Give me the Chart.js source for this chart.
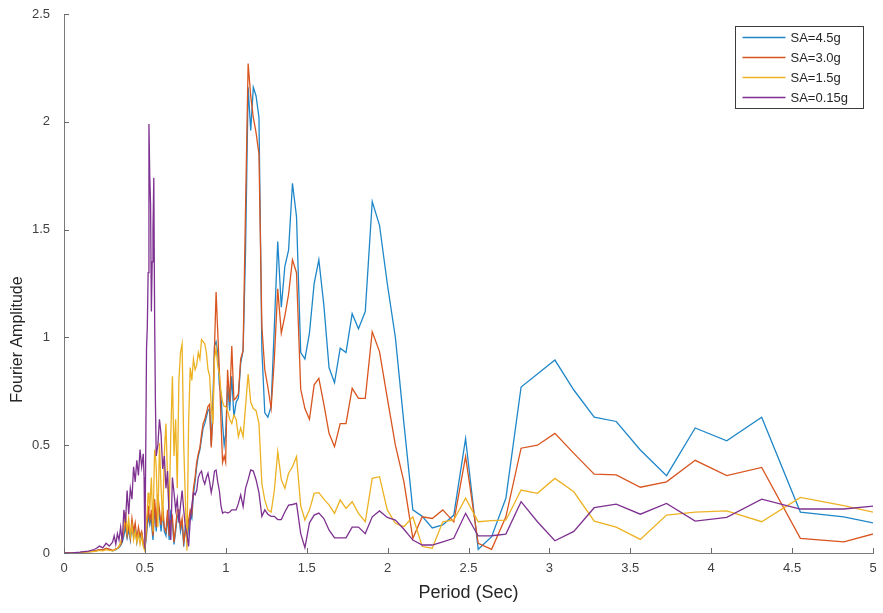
<!DOCTYPE html>
<html>
<head>
<meta charset="utf-8">
<title>Fourier Amplitude vs Period</title>
<script src="https://cdn.jsdelivr.net/npm/chart.js@4/dist/chart.umd.min.js"></script>
<style>
  html, body { margin: 0; padding: 0; background: #ffffff; }
  #wrap { width: 883px; height: 613px; }
</style>
</head>
<body>
<div id="wrap"><canvas id="chart" width="883" height="613"></canvas></div>
<script>
// Period grid (s): coarse near zero, dense through the 0.3-1.0 s band,
// then the FFT bins T = 81.92/k for k = 82 ... 16.
const periods = [
  0, 0.05, 0.1, 0.15, 0.18, 0.2, 0.22, 0.24, 0.26, 0.28,
  0.30, 0.31, 0.32, 0.33, 0.34, 0.35, 0.36, 0.37, 0.38, 0.39, 0.40, 0.41, 0.42, 0.43, 0.44, 0.45, 0.46, 0.47, 0.48,
  0.49, 0.495, 0.50, 0.505, 0.51, 0.515, 0.52, 0.525, 0.53, 0.535, 0.54, 0.545, 0.55, 0.555, 0.56, 0.565, 0.57,
  0.58, 0.59, 0.60, 0.61, 0.62, 0.63, 0.64, 0.65, 0.66, 0.67, 0.68, 0.69, 0.70, 0.71, 0.72, 0.73, 0.74, 0.75, 0.76, 0.77,
  0.78, 0.79, 0.80, 0.81, 0.82, 0.83, 0.84, 0.85, 0.86, 0.87, 0.88, 0.89, 0.90, 0.91, 0.92, 0.93, 0.94, 0.95, 0.96, 0.97,
  0.98, 0.99,
  0.999, 1.011, 1.024, 1.037, 1.05, 1.064, 1.078, 1.092, 1.107, 1.122,
  1.138, 1.154, 1.17, 1.187, 1.205, 1.223, 1.241, 1.26, 1.28, 1.3,
  1.321, 1.343, 1.365, 1.388, 1.412, 1.437, 1.463, 1.489, 1.517, 1.546,
  1.575, 1.606, 1.638, 1.672, 1.707, 1.743, 1.781, 1.82, 1.862, 1.905,
  1.95, 1.998, 2.048, 2.101, 2.156, 2.214, 2.276, 2.341, 2.409, 2.482,
  2.56, 2.643, 2.731, 2.825, 2.926, 3.034, 3.151, 3.277, 3.413, 3.562,
  3.724, 3.901, 4.096, 4.312, 4.551, 4.819, 5.12
];

// Fourier amplitude for each input level, one value per period above.
const sa45 = [
  0, 0.001, 0.003, 0.006, 0.008, 0.011, 0.015, 0.013, 0.02, 0.016,
  0.01, 0.012, 0.015, 0.02, 0.025, 0.035, 0.05, 0.08, 0.12, 0.07, 0.11, 0.06, 0.13, 0.08, 0.12, 0.05, 0.1, 0.07, 0.09,
  0.04, 0.03, 0.02, 0.05, 0.08, 0.13, 0.18, 0.15, 0.13, 0.15, 0.17, 0.1, 0.06, 0.13, 0.21, 0.17, 0.1,
  0.23, 0.17, 0.1, 0.19, 0.1, 0.08, 0.17, 0.06, 0.2, 0.14, 0.04, 0.1, 0.17, 0.18, 0.1, 0.14, 0.03, 0.13, 0.05, 0.12,
  0.18, 0.16, 0.27, 0.33, 0.4, 0.45, 0.48, 0.53, 0.58, 0.6, 0.63, 0.66, 0.67, 0.5, 0.7, 0.96, 0.98, 0.93, 0.78, 0.74,
  0.6, 0.5,
  0.55, 0.78, 0.66, 0.82, 0.63, 0.70, 0.72, 0.88, 0.94, 1.4,
  2.16, 1.96, 2.16, 2.12, 2.02, 0.94, 0.65, 0.63, 0.68, 1.05,
  1.445, 1.14, 1.33, 1.405, 1.715, 1.56, 0.93, 0.90, 1.02, 1.25,
  1.36, 1.15, 0.86, 0.79, 0.95, 0.93, 1.11, 1.04, 1.12, 1.63,
  1.52, 1.25, 1.0, 0.6, 0.2, 0.17, 0.116, 0.13, 0.176, 0.53,
  0.017, 0.076, 0.254, 0.77, 0.83, 0.895, 0.756, 0.63, 0.61, 0.478,
  0.359, 0.58, 0.52, 0.63, 0.19, 0.168, 0.121
];
const sa30 = [
  0, 0.001, 0.003, 0.006, 0.009, 0.012, 0.016, 0.014, 0.022, 0.018,
  0.012, 0.014, 0.02, 0.022, 0.03, 0.04, 0.06, 0.1, 0.15, 0.08, 0.13, 0.07, 0.16, 0.1, 0.14, 0.06, 0.12, 0.08, 0.1,
  0.05, 0.04, 0.02, 0.06, 0.1, 0.15, 0.22, 0.18, 0.15, 0.17, 0.2, 0.12, 0.08, 0.15, 0.25, 0.2, 0.12,
  0.27, 0.2, 0.13, 0.22, 0.12, 0.1, 0.2, 0.08, 0.15, 0.17, 0.05, 0.12, 0.2, 0.2, 0.12, 0.16, 0.05, 0.1, 0.08, 0.15,
  0.2, 0.18, 0.3, 0.35, 0.42, 0.46, 0.49, 0.55, 0.6, 0.62, 0.65, 0.68, 0.69, 0.49, 0.63, 0.95, 1.21, 1.03, 0.85, 0.62,
  0.42, 0.45,
  0.42, 0.85, 0.70, 0.96, 0.71, 0.72, 0.74, 0.9, 0.94, 1.6,
  2.27, 2.12, 2.02, 1.95, 1.85, 1.05, 0.85, 0.77, 0.67, 0.9,
  1.225, 1.02, 1.1, 1.2, 1.36, 1.30, 0.76, 0.67, 0.62, 0.78,
  0.81, 0.69, 0.555, 0.493, 0.6, 0.6, 0.764, 0.717, 0.717, 1.026,
  0.934, 0.72, 0.5, 0.33, 0.068, 0.168, 0.16, 0.2, 0.144, 0.447,
  0.045, 0.017, 0.168, 0.486, 0.5, 0.555, 0.462, 0.366, 0.362, 0.305,
  0.33, 0.43, 0.359, 0.397, 0.068, 0.052, 0.112
];
const sa15 = [
  0, 0.001, 0.002, 0.005, 0.007, 0.009, 0.012, 0.01, 0.016, 0.012,
  0.01, 0.012, 0.018, 0.02, 0.03, 0.05, 0.08, 0.12, 0.19, 0.1, 0.16, 0.08, 0.13, 0.06, 0.1, 0.05, 0.09, 0.04, 0.08,
  0.03, 0.02, 0.01, 0.08, 0.15, 0.2, 0.28, 0.25, 0.2, 0.28, 0.35, 0.22, 0.1, 0.3, 0.48, 0.45, 0.4,
  0.12, 0.51, 0.3, 0.15, 0.46, 0.6, 0.35, 0.2, 0.55, 0.82, 0.45, 0.62, 0.3, 0.8, 0.93, 0.97, 0.5, 0.25, 0.01, 0.6,
  0.86, 0.8, 0.9, 0.85, 0.87, 0.93, 0.9, 0.99, 0.98, 0.97, 0.93, 0.85, 0.82, 0.68, 0.6, 0.9, 0.95, 0.87, 0.83, 0.75,
  0.7, 0.68,
  0.68, 0.66, 0.62, 0.6, 0.64, 0.62, 0.54, 0.58, 0.54, 0.68,
  0.83, 0.70, 0.67, 0.66, 0.6, 0.32, 0.246, 0.2, 0.19, 0.29,
  0.47, 0.34, 0.3, 0.37, 0.40, 0.447, 0.22, 0.153, 0.2, 0.277,
  0.28, 0.25, 0.223, 0.184, 0.246, 0.207, 0.238, 0.184, 0.145, 0.346,
  0.354, 0.2, 0.138, 0.122, 0.168, 0.03, 0.022, 0.145, 0.153, 0.254,
  0.145, 0.15, 0.152, 0.292, 0.277, 0.346, 0.284, 0.148, 0.12, 0.063,
  0.176, 0.19, 0.195, 0.145, 0.258, 0.22, 0.17
];
const sa015 = [
  0, 0.001, 0.004, 0.009, 0.014, 0.022, 0.032, 0.024, 0.045, 0.032,
  0.05, 0.08, 0.04, 0.09, 0.06, 0.12, 0.05, 0.2, 0.14, 0.29, 0.18, 0.3, 0.25, 0.4, 0.33, 0.43, 0.36, 0.48, 0.4,
  0.46, 0.35, 0.02, 0.45, 0.95, 1.05, 1.3, 1.99, 1.75, 1.62, 1.12, 1.35, 1.5, 1.74, 1.1, 0.7, 0.45,
  0.5, 0.62, 0.55, 0.39, 0.45, 0.3, 0.38, 0.15, 0.06, 0.35, 0.28, 0.2, 0.25, 0.14, 0.22, 0.29, 0.2, 0.12, 0.09, 0.03,
  0.15, 0.22, 0.28, 0.27, 0.29, 0.35, 0.37, 0.38, 0.34, 0.32, 0.35, 0.37, 0.33, 0.28, 0.32, 0.38, 0.385, 0.33, 0.29, 0.22,
  0.185, 0.19,
  0.19, 0.185, 0.19, 0.2, 0.2, 0.2, 0.23, 0.27, 0.215, 0.3,
  0.34, 0.385, 0.38, 0.34, 0.28, 0.17, 0.2, 0.18, 0.17, 0.17,
  0.155, 0.155, 0.19, 0.222, 0.225, 0.23, 0.09, 0.025, 0.14, 0.176,
  0.185, 0.16, 0.107, 0.07, 0.07, 0.07, 0.12, 0.12, 0.09, 0.168,
  0.195, 0.165, 0.153, 0.11, 0.06, 0.037, 0.037, 0.052, 0.068, 0.184,
  0.079, 0.08, 0.088, 0.238, 0.145, 0.057, 0.1, 0.21, 0.227, 0.18,
  0.23, 0.148, 0.165, 0.25, 0.204, 0.204, 0.227
];

const seriesLabels = ['SA=4.5g', 'SA=3.0g', 'SA=1.5g', 'SA=0.15g'];
const seriesColors = ['#1f87c9', '#d9551f', '#edb223', '#7e3190'];
const xTickValues = [0, 0.5, 1, 1.5, 2, 2.5, 3, 3.5, 4, 4.5, 5];
const yTickValues = [0, 0.5, 1, 1.5, 2, 2.5];
const xAxisTitle = 'Period (Sec)';
const yAxisTitle = 'Fourier Amplitude';

const FONT = '"Liberation Sans", Arial, Helvetica, sans-serif';

function toPoints(values) {
  return periods.map((p, i) => ({ x: p, y: values[i] }));
}

// Inward tick marks on the left and bottom axes, the vertical axis title,
// and a boxed legend in the upper-right corner of the plot area.
const axisTicksAndLegend = {
  id: 'axisTicksAndLegend',
  afterDraw(chart) {
    const { ctx, chartArea: a } = chart;
    const xs = chart.scales.x, ys = chart.scales.y;
    ctx.save();
    ctx.strokeStyle = '#6a6a6a';
    ctx.lineWidth = 1;
    ctx.beginPath();
    xTickValues.forEach(v => {
      const px = Math.round(xs.getPixelForValue(v)) + 0.5;
      ctx.moveTo(px, a.bottom);
      ctx.lineTo(px, a.bottom - 5);
    });
    yTickValues.forEach(v => {
      const py = Math.round(ys.getPixelForValue(v)) + 0.5;
      ctx.moveTo(a.left, py);
      ctx.lineTo(a.left + 5, py);
    });
    ctx.stroke();

    // vertical axis title, set a little below the middle of the axis
    ctx.save();
    ctx.translate(18, ys.getPixelForValue(0.99));
    ctx.rotate(-Math.PI / 2);
    ctx.font = '16px ' + FONT;
    ctx.fillStyle = '#262626';
    ctx.textAlign = 'center';
    ctx.textBaseline = 'middle';
    ctx.fillText(yAxisTitle, 0, 0);
    ctx.restore();

    const boxW = 128, boxH = 82;
    const bx = Math.round(a.right - 10 - boxW) + 0.5;
    const by = Math.round(a.top + 12) + 0.5;
    ctx.fillStyle = '#ffffff';
    ctx.fillRect(bx, by, boxW, boxH);
    ctx.strokeStyle = '#3c3c3c';
    ctx.lineWidth = 1;
    ctx.strokeRect(bx, by, boxW, boxH);
    ctx.font = '13px ' + FONT;
    ctx.textBaseline = 'middle';
    ctx.textAlign = 'left';
    chart.data.datasets.forEach((ds, i) => {
      const rowY = by + 11 + i * 20;
      ctx.strokeStyle = ds.borderColor;
      ctx.lineWidth = 1.3;
      ctx.beginPath();
      ctx.moveTo(bx + 7, rowY);
      ctx.lineTo(bx + 50, rowY);
      ctx.stroke();
      ctx.fillStyle = '#262626';
      ctx.fillText(ds.label, bx + 55, rowY + 0.5);
    });
    ctx.restore();
  }
};

const datasets = [sa45, sa30, sa15, sa015].map((vals, i) => ({
  label: seriesLabels[i],
  data: toPoints(vals),
  borderColor: seriesColors[i],
  backgroundColor: seriesColors[i],
  borderWidth: 1.3,
  pointRadius: 0,
  tension: 0,
  fill: false,
  order: 4 - i   // later series are painted on top
}));

const plainNumber = v => String(+v);

new Chart(document.getElementById('chart'), {
  type: 'line',
  data: { datasets },
  plugins: [axisTicksAndLegend],
  options: {
    responsive: false,
    animation: false,
    devicePixelRatio: 1,
    layout: { padding: { left: 0, right: 10, top: 14, bottom: 0 } },
    plugins: {
      legend: { display: false },
      tooltip: { enabled: false }
    },
    scales: {
      x: {
        type: 'linear',
        min: 0,
        max: 5,
        afterBuildTicks: s => { s.ticks = xTickValues.map(v => ({ value: v })); },
        afterFit: s => { s.height = 60; s.paddingLeft = 0; s.paddingRight = 0; },
        grid: { display: false },
        border: { display: true, color: '#7a7a7a', width: 1 },
        ticks: {
          color: '#404040',
          padding: 0,
          maxRotation: 0,
          autoSkip: false,
          callback: plainNumber,
          font: { family: FONT, size: 13 }
        },
        title: {
          display: true,
          text: xAxisTitle,
          color: '#262626',
          font: { family: FONT, size: 18 },
          padding: { top: 0, bottom: 9 }
        }
      },
      y: {
        type: 'linear',
        min: 0,
        max: 2.5,
        afterBuildTicks: s => { s.ticks = yTickValues.map(v => ({ value: v })); },
        afterFit: s => { s.width = 64; s.paddingTop = 0; s.paddingBottom = 0; },
        grid: { display: false },
        border: { display: true, color: '#7a7a7a', width: 1 },
        ticks: {
          color: '#404040',
          padding: 6,
          autoSkip: false,
          callback: plainNumber,
          font: { family: FONT, size: 13 }
        },
        title: { display: false }
      }
    }
  }
});
</script>
</body>
</html>
